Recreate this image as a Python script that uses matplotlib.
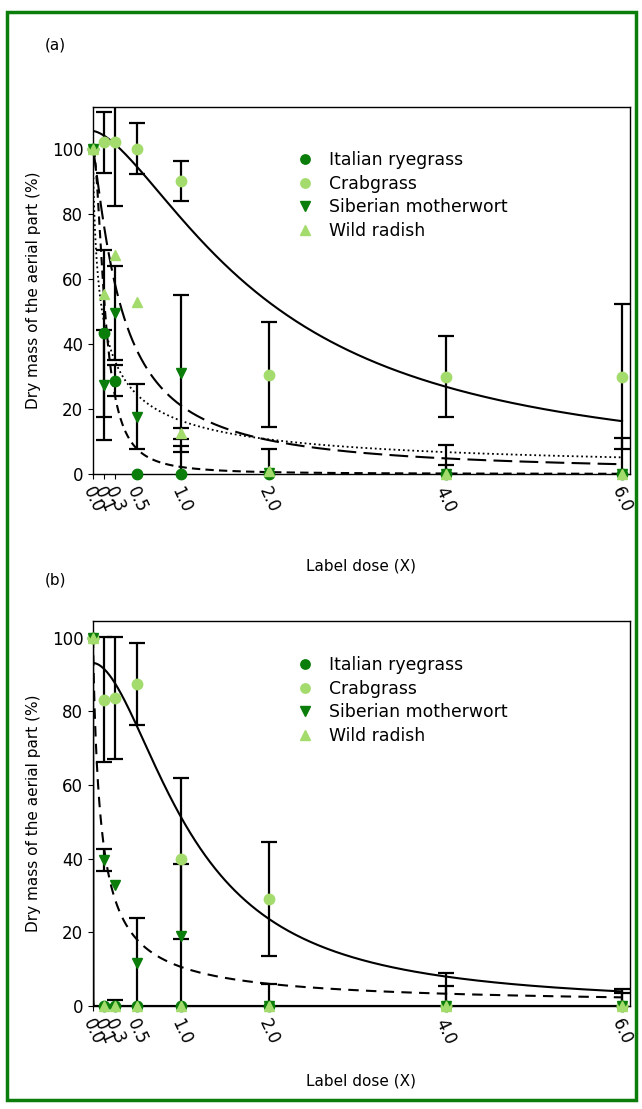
import numpy as np
import matplotlib
matplotlib.use("Agg")
import matplotlib.pyplot as plt
from matplotlib.patches import Rectangle

plt.rcParams['font.family'] = ['DejaVu Sans']

nan = np.nan
doses = [0.0, 0.125, 0.25, 0.5, 1.0, 2.0, 4.0, 6.0]
dose_labels = ["0.0", "0.1", "0.3", "0.5", "1.0", "2.0", "4.0", "6.0"]
species = ["Italian ryegrass", "Crabgrass", "Siberian motherwort", "Wild radish"]

# Panel (a)
italian_a = [100, 43.3, 28.7, 0, 0, 0, 0, 0]
italian_a_err = [nan, 25.6, 4.8, nan, 8.7, nan, 8.8, 11.0]
crab_a = [100, 102.2, 102.2, 100.2, 90.3, 30.6, 30.0, 30.0]
crab_a_err = [nan, 9.4, 19.6, 7.8, 6.1, 16.2, 12.6, 22.3]
sib_a = [100, 27.5, 49.5, 17.7, 31.0, 0.3, 0, 0]
sib_a_err = [nan, 16.9, 14.5, 10.1, 24.2, 7.5, nan, nan]
wild_a = [100, 55.4, 67.4, 53.0, 12.5, 1.0, 0, 0]
wild_a_err = [nan, nan, nan, nan, 1.7, nan, 2.9, nan]

# Panel (b)
italian_b = [100, 0, 0, 0, 0, 0, 0, 0]
italian_b_err = [nan, nan, 1.7, nan, nan, nan, nan, nan]
crab_b = [100, 83.1, 83.6, 87.5, 40.0, 29.0, 0, 0]
crab_b_err = [nan, 17.0, 16.5, 11.1, 21.9, 15.4, 9.0, 4.5]
sib_b = [100, 39.7, 32.8, 11.7, 18.9, 0, 0, 0]
sib_b_err = [nan, 3.0, nan, 12.1, 19.7, 6.0, 5.3, 3.5]
wild_b = [100, 0, 0, 0, 0, 0, 0, 0]
wild_b_err = [nan] * 8

# Fitted log-logistic curves: (d, e, b)
fit_a = {"Italian ryegrass": (100, 0.137, 1.92),
         "Crabgrass": (105.6, 2.0, 1.55),
         "Siberian motherwort": (100, 0.332, 1.2),
         "Wild radish": (100, 0.104, 0.72)}
fit_b = {"Italian ryegrass": (100, 0.001, 4.0),
         "Crabgrass": (93.1, 1.114, 1.85),
         "Siberian motherwort": (100, 0.091, 0.89),
         "Wild radish": (100, 0.001, 4.0)}

styles_a = {"Italian ryegrass": (0, (4, 2.5)),
            "Crabgrass": "-",
            "Siberian motherwort": (0, (9, 3.5)),
            "Wild radish": (0, (1, 1.6))}
styles_b = {"Italian ryegrass": "-",
            "Crabgrass": "-",
            "Siberian motherwort": (0, (5, 3.5)),
            "Wild radish": "-"}

dark = "#0a7d0a"
light = "#a3dc6c"
colors = {"Italian ryegrass": dark, "Crabgrass": light,
          "Siberian motherwort": dark, "Wild radish": light}
markers = {"Italian ryegrass": "o", "Crabgrass": "o",
           "Siberian motherwort": "v", "Wild radish": "^"}

fig = plt.figure(figsize=(6.42, 11.09), dpi=100)
W, H = 642, 1109

def ax_rect(l, t, r, b):
    return [l / W, 1 - b / H, (r - l) / W, (b - t) / H]

ax_a = fig.add_axes(ax_rect(93, 107, 630, 474))
ax_b = fig.add_axes(ax_rect(93, 621, 630, 1006))

xs = np.unique(np.concatenate([[0.0], np.geomspace(1e-5, 6.0, 1500)]))

def loglog(x, d, e, b):
    return d / (1 + (x / e) ** b)

panels = [
    (ax_a, [italian_a, crab_a, sib_a, wild_a],
     [italian_a_err, crab_a_err, sib_a_err, wild_a_err], fit_a, styles_a,
     113.0, 31, 0.899),
    (ax_b, [italian_b, crab_b, sib_b, wild_b],
     [italian_b_err, crab_b_err, sib_b_err, wild_b_err], fit_b, styles_b,
     104.5, 19, 0.927),
]

for ax, vals, errs, fits, styles, ytop, xpad, leg_y in panels:
    for sp in species:
        d, e, b = fits[sp]
        lw = 1.3 if sp == "Wild radish" and ax is ax_a else 1.5
        ax.plot(xs, loglog(xs, d, e, b), color="black", lw=lw,
                linestyle=styles[sp], zorder=2)
    for sp, v, er in zip(species, vals, errs):
        ax.errorbar(doses, v, yerr=er, fmt="none", ecolor="black",
                    elinewidth=1.6, capsize=6, capthick=1.6, zorder=3)
    for sp, v in zip(species, vals):
        ax.plot(doses, v, linestyle="none", marker=markers[sp], ms=7.5,
                color=colors[sp], label=sp, zorder=4, clip_on=False)
    ax.set_xlim(0, 6.09)
    ax.set_ylim(0, ytop)
    ax.set_xticks(doses)
    ax.set_xticklabels(dose_labels, rotation=-65, fontsize=12)
    ax.set_yticks([0, 20, 40, 60, 80, 100])
    ax.tick_params(axis="y", labelsize=12)
    ax.set_xlabel("Label dose (X)", fontsize=11, labelpad=xpad)
    ax.set_ylabel("Dry mass of the aerial part (%)", fontsize=11, labelpad=8)
    for s in ax.spines.values():
        s.set_linewidth(1.0)
    ax.legend(loc="upper left", bbox_to_anchor=(0.362, leg_y), frameon=False,
              fontsize=12.4, handletextpad=0.8, labelspacing=0.33,
              handlelength=1.2, borderaxespad=0, markerscale=0.9)

fig.text(45 / W, 1 - 45 / H, "(a)", fontsize=11, va="center", ha="left")
fig.text(45 / W, 1 - 580 / H, "(b)", fontsize=11, va="center", ha="left")

fig.add_artist(Rectangle((7 / W, 1 - 1100 / H), 629 / W, 1088 / H,
                         transform=fig.transFigure, fill=False,
                         edgecolor="#0a7d0a", lw=2.5))

fig.savefig("out.png", dpi=100)
